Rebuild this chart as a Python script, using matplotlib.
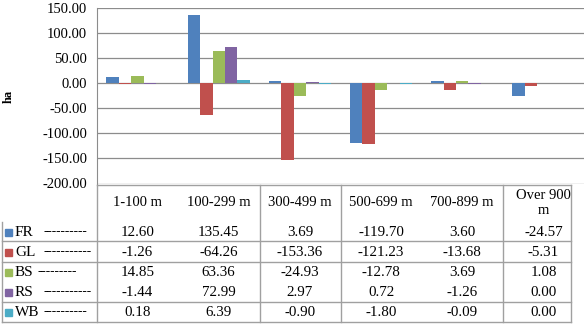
import matplotlib
matplotlib.use("Agg")
import matplotlib.pyplot as plt
import numpy as np

plt.rcParams['font.family'] = ['Liberation Serif', 'DejaVu Serif']
plt.rcParams['axes.unicode_minus'] = False

# altitude classes and change in area (ha) per land cover class
categories = ["1-100 m", "100-299 m", "300-499 m", "500-699 m", "700-899 m", "Over 900\nm"]
series_names = ["FR", "GL", "BS", "RS", "WB"]
dash_labels = ["----------", "-----------", "---------", "-----------", "----------"]
fr = [12.60, 135.45, 3.69, -119.70, 3.60, -24.57]
gl = [-1.26, -64.26, -153.36, -121.23, -13.68, -5.31]
bs = [14.85, 63.36, -24.93, -12.78, 3.69, 1.08]
rs = [-1.44, 72.99, 2.97, 0.72, -1.26, 0.00]
wb = [0.18, 6.39, -0.90, -1.80, -0.09, 0.00]
colors = ["#4F81BD", "#C0504D", "#9BBB59", "#8064A2", "#4BACC6"]

W, H = 587, 328
fig = plt.figure(figsize=(W / 100, H / 100), dpi=100)

# pixel layout
left_px, right_px, top_px, bot_px = 97, 584, 8, 183.5

ax = fig.add_axes([left_px / W, 1 - bot_px / H, (right_px - left_px) / W, (bot_px - top_px) / H])
data = [fr, gl, bs, rs, wb]
n = len(data)
x = np.arange(len(categories))
w = 1 / 6.5
for i, (vals, c) in enumerate(zip(data, colors)):
    ax.bar(x + (i - (n - 1) / 2) * w, vals, width=w, color=c, zorder=3)

ax.set_xlim(-0.5, len(categories) - 0.5)
ax.set_ylim(-200, 150)
ax.set_yticks(np.arange(-200, 151, 50))
ax.yaxis.set_major_formatter(matplotlib.ticker.FormatStrFormatter('%.2f'))
ax.tick_params(axis='y', length=0, labelsize=10.5, pad=7)
ax.set_xticks([])
ax.grid(axis='y', color='#8c8c8c', linewidth=0.9, zorder=0)
for s in ['top', 'right', 'bottom']:
    ax.spines[s].set_visible(False)
ax.spines['left'].set_color('#8c8c8c')
fig.text(9 / W, 1 - 96 / H, "ha", rotation=90, fontsize=9, fontweight='bold', ha='center', va='center')

# data table drawn in pixel coordinates
tb = fig.add_axes([0, 0, 1, 1 - bot_px / H])
tb.set_xlim(0, W)
tb.set_ylim(H, bot_px)
tb.axis('off')
cw = (right_px - left_px) / len(categories)
lc = '#a0a0a0'
row_top = 222
rh = 20

for j, cat in enumerate(categories):
    cx = left_px + (j + 0.5) * cw
    tb.text(cx, 203, cat, ha='center', va='center', fontsize=10.5, linespacing=1.25)
    for i, vals in enumerate(data):
        cy = row_top + (i + 0.5) * rh
        tb.text(cx, cy, "%.2f" % vals[j], ha='center', va='center', fontsize=10.8)

for i, name in enumerate(series_names):
    cy = row_top + (i + 0.5) * rh
    tb.add_patch(plt.Rectangle((5, cy - 3.5), 7, 7, color=colors[i]))
    tb.text(15, cy, name, ha='left', va='center', fontsize=11)
    tb.text(44 if i != 2 else 38, cy, dash_labels[i], ha='left', va='center', fontsize=9.5)

tbl_right = 571
tb.plot([left_px, tbl_right], [bot_px + 1, bot_px + 1], color=lc, lw=1)
for yy in [241, 262, 302, 322]:
    tb.plot([2, tbl_right], [yy, yy], color=lc, lw=1)
for xx in [left_px, 260, 341, 503, tbl_right]:
    tb.plot([xx, xx], [bot_px + 1, 322], color=lc, lw=1)
tb.plot([2, 2], [row_top, 322], color=lc, lw=1)

fig.savefig("out.png", dpi=100)
